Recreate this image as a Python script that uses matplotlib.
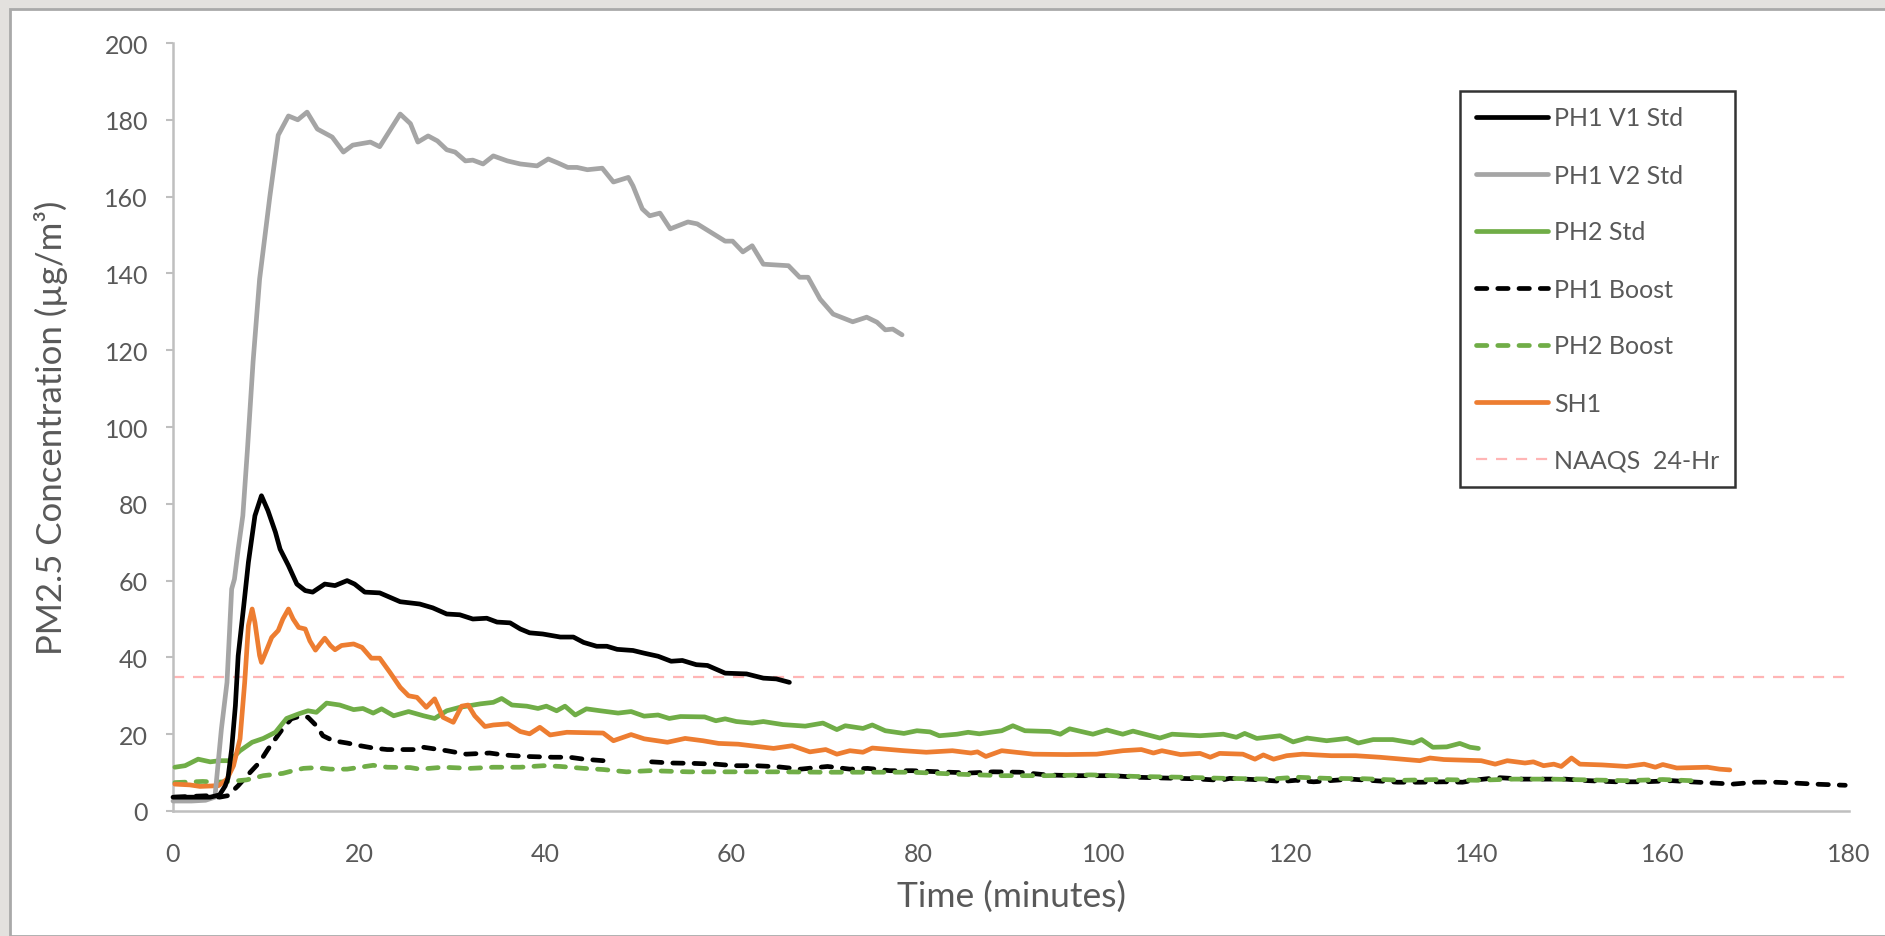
import numpy as np
import matplotlib
matplotlib.use("Agg")
import matplotlib.pyplot as plt
from matplotlib.patches import Rectangle

plt.rcParams['font.family'] = ['Lato', 'DejaVu Sans']

# ---- data: (time in minutes, PM2.5 ug/m3) ----
PH1_V1_STD = [(0, 3.6), (2, 3.6), (4.0, 3.6), (5.0, 4.2), (5.6, 6.5), (5.9, 8.5), (6.3, 16.1), (6.7, 27.4),
              (7.0, 40.4), (7.6, 53.5), (8.1, 64.8), (8.8, 76.9), (9.5, 82.1), (10.2, 78.2), (11.0, 72.6),
              (11.5, 68.2), (12.4, 63.9), (13.3, 59.1), (14.2, 57.4), (15.0, 57.0), (16.3, 59.1), (17.4, 58.7),
              (18.7, 60.0), (19.5, 59.1), (20.6, 57.0), (22.2, 56.8), (24.4, 54.5), (26.5, 53.9), (27.9, 52.9),
              (29.4, 51.3), (30.8, 51.1), (32.2, 50.0), (33.7, 50.2), (34.8, 49.2), (36.2, 49.0), (37.3, 47.4),
              (38.3, 46.4), (39.7, 46.1), (41.6, 45.3), (43.0, 45.3), (44.1, 43.9), (45.5, 42.9), (46.6, 42.9),
              (47.7, 42.1), (49.4, 41.8), (50.6, 41.1), (52.1, 40.3), (53.5, 39.0), (54.7, 39.2), (56.2, 38.1),
              (57.4, 37.9), (59.3, 35.9), (61.6, 35.7), (63.4, 34.6), (64.8, 34.4), (66.2, 33.5)]

PH1_V2_STD = [(0, 2.6), (2, 2.6), (3.5, 2.8), (4.5, 3.6), (5.2, 21.4), (5.8, 33.5), (6.3, 57.8), (6.6, 60.4),
              (7.0, 68.2), (7.5, 76.9), (8.0, 94.3), (8.6, 117), (9.3, 138.5), (10.4, 160), (11.3, 176),
              (12.4, 181), (13.4, 180), (14.4, 182), (15.5, 177.6), (17.1, 175.5), (18.3, 171.6), (19.3, 173.4),
              (21.2, 174.2), (22.2, 173), (24.4, 181.5), (25.5, 179), (26.3, 174.2), (27.4, 175.8), (28.4, 174.5),
              (29.4, 172.2), (30.3, 171.6), (31.4, 169.3), (32.2, 169.5), (33.3, 168.5), (34.4, 170.6),
              (35.9, 169.3), (37.3, 168.5), (39.1, 168), (40.3, 169.8), (41.3, 168.8), (42.4, 167.6),
              (43.4, 167.6), (44.5, 167), (46.1, 167.4), (47.3, 163.8), (48.9, 165), (49.4, 162.8), (50.4, 156.8),
              (51.2, 155), (52.3, 155.7), (53.4, 151.6), (55.3, 153.4), (56.3, 152.9), (57.7, 150.8),
              (59.3, 148.4), (60.1, 148.4), (61.2, 145.6), (62.2, 147.2), (63.4, 142.4), (66.1, 142),
              (67.3, 139), (68.2, 139), (69.5, 133.3), (70.9, 129.4), (73.0, 127.4), (74.5, 128.6),
              (75.6, 127.3), (76.5, 125.3), (77.3, 125.5), (78.3, 124)]

PH2_STD = [(0.2, 11.4), (1.3, 11.8), (2.7, 13.5), (4.0, 12.8), (5.0, 13.1), (6.1, 13.1), (7.2, 15.7), (8.5, 17.9),
           (9.7, 18.9), (11.0, 20.5), (12.2, 24.1), (13.5, 25.3), (14.5, 26.1), (15.4, 25.7), (16.5, 28.1),
           (17.9, 27.6), (19.4, 26.4), (20.4, 26.7), (21.5, 25.5), (22.4, 26.6), (23.7, 24.8), (25.3, 25.9),
           (26.9, 24.8), (28.1, 24.1), (29.4, 26.1), (30.8, 27.0), (33.0, 27.9), (34.4, 28.3), (35.3, 29.3),
           (36.4, 27.6), (38.0, 27.3), (39.2, 26.7), (40.1, 27.3), (41.2, 26.1), (42.1, 27.3), (43.2, 25.0),
           (44.4, 26.6), (45.9, 26.1), (47.8, 25.5), (49.2, 25.9), (50.6, 24.7), (52.1, 25.0), (53.3, 24.1),
           (54.5, 24.6), (57.1, 24.5), (58.3, 23.5), (59.3, 24.0), (60.5, 23.3), (62.2, 22.9), (63.4, 23.3),
           (65.5, 22.5), (67.9, 22.1), (69.8, 22.9), (71.3, 21.2), (72.2, 22.2), (74.1, 21.5), (75.1, 22.4),
           (76.5, 20.9), (78.5, 20.2), (79.9, 20.9), (81.3, 20.6), (82.3, 19.6), (84.2, 20.0), (85.4, 20.5),
           (86.6, 20.1), (89.0, 20.9), (90.2, 22.2), (91.5, 20.9), (94.2, 20.7), (95.3, 20.0), (96.3, 21.4),
           (98.8, 20.0), (100.3, 21.1), (102.0, 20.0), (103.1, 20.8), (106.0, 19.0), (107.3, 20.0),
           (110.3, 19.6), (112.8, 20.0), (114.2, 19.2), (115.1, 20.2), (116.4, 18.9), (118.9, 19.6),
           (120.3, 18.0), (121.8, 19.0), (123.9, 18.3), (126.1, 18.9), (127.3, 17.7), (128.9, 18.6),
           (131.0, 18.6), (133.2, 17.7), (134.1, 18.6), (135.3, 16.6), (136.8, 16.7), (138.2, 17.6),
           (139.3, 16.6), (140.2, 16.3)]

PH1_BOOST = [(0.2, 3.6), (1.8, 3.8), (4.0, 4.0), (5.0, 3.6), (5.9, 4.0), (7.0, 6.6), (8.3, 10.1), (9.3, 12.7),
             (10.2, 16.1), (11.0, 18.8), (11.8, 21.5), (12.7, 24.0), (13.8, 24.8), (14.5, 24.4), (15.4, 22.2),
             (16.1, 19.6), (17.2, 18.3), (18.7, 17.7), (20.1, 17.0), (21.5, 16.4), (23.0, 16.0), (24.7, 16.0),
             (26.2, 16.0), (26.9, 16.6), (29.4, 15.7), (31.5, 14.8), (34.0, 15.1), (35.5, 14.6), (38.0, 14.2),
             (40.8, 14.0), (42.6, 14.0), (44.1, 13.5), (46.2, 13.1), (48.8, None), (51.4, 12.8), (53.5, 12.5),
             (55.9, 12.4), (58.3, 12.2), (60.3, 11.8), (62.6, 11.8), (65.0, 11.5), (67.4, 10.9), (70.3, 11.6),
             (72.7, 10.9), (74.6, 11.1), (77.0, 10.5), (79.4, 10.5), (82.3, 10.2), (85.6, 9.9), (88.1, 10.2),
             (90.9, 10.1), (93.8, 9.4), (96.7, 9.2), (101.0, 9.2), (103.4, 8.8), (106.3, 8.6), (109.6, 8.4),
             (112.5, 8.0), (113.5, 8.5), (116.8, 8.1), (119.2, 7.7), (120.6, 8.0), (122.5, 7.6), (126.5, 8.3),
             (129.0, 7.9), (131.5, 7.5), (134.0, 7.5), (136.5, 7.6), (138.5, 7.5), (140.0, 8.1), (142.3, 8.7),
             (145.0, 8.3), (149.5, 8.3), (152.0, 7.9), (155.0, 7.6), (158.0, 7.6), (161.0, 7.9), (163.0, 7.6),
             (165.3, 7.3), (167.5, 7.0), (170.0, 7.5), (172.0, 7.5), (174.0, 7.3), (176.3, 7.0), (179.6, 6.7)]

PH2_BOOST = [(0.2, 7.4), (3.2, 7.7), (4.7, 7.5), (6.1, 7.7), (7.9, 8.1), (9.7, 9.2), (11.8, 9.8), (12.9, 10.5),
             (14.0, 11.1), (15.4, 11.3), (16.9, 10.9), (18.7, 10.9), (20.1, 11.4), (21.5, 11.9), (23.0, 11.4),
             (25.5, 11.3), (26.5, 10.9), (29.0, 11.4), (31.9, 11.1), (34.4, 11.4), (37.3, 11.4), (39.8, 11.8),
             (41.6, 11.6), (44.1, 11.1), (46.2, 10.8), (48.7, 10.2), (51.2, 10.5), (55.4, 10.2), (59.3, 10.2),
             (65.0, 10.2), (69.8, 10.1), (74.6, 10.1), (79.4, 10.1), (84.2, 9.6), (89.0, 9.2), (93.8, 9.2),
             (98.6, 9.4), (103.4, 9.0), (108.2, 8.8), (113.0, 8.5), (117.8, 8.3), (120.6, 8.8), (124.0, 8.5),
             (128.0, 8.4), (132.0, 8.0), (136.0, 8.2), (140.0, 8.0), (144.0, 8.3), (148.0, 8.3), (152.0, 8.1),
             (156.0, 7.9), (160.0, 8.2), (164.0, 7.8)]

SH1 = [(0.2, 7.0), (1.8, 6.8), (2.9, 6.4), (4.9, 6.6), (5.8, 8.3), (6.5, 11.8), (7.2, 18.8), (7.7, 33.5),
       (8.1, 48.3), (8.5, 52.6), (8.8, 49.1), (9.3, 40.5), (9.5, 38.7), (10.1, 42.2), (10.6, 45.2), (11.3, 47.0),
       (11.8, 50.0), (12.4, 52.6), (12.9, 50.0), (13.5, 47.8), (14.2, 47.4), (14.7, 44.3), (15.3, 41.9),
       (15.8, 43.5), (16.3, 45.0), (16.9, 43.1), (17.4, 42.0), (18.1, 43.1), (19.4, 43.5), (20.3, 42.6),
       (21.3, 39.8), (22.2, 39.8), (23.3, 36.1), (24.4, 32.2), (25.3, 30.0), (26.2, 29.6), (27.2, 27.0),
       (28.1, 29.2), (29.0, 24.4), (30.1, 23.1), (31.0, 27.3), (31.7, 27.6), (32.4, 24.8), (33.5, 22.0),
       (34.4, 22.4), (36.0, 22.7), (37.3, 20.7), (38.3, 20.1), (39.4, 21.8), (40.5, 19.8), (42.3, 20.5),
       (46.2, 20.3), (47.3, 18.3), (49.2, 19.9), (50.6, 18.8), (53.1, 17.9), (55.0, 18.9), (56.9, 18.3),
       (58.6, 17.6), (60.7, 17.4), (64.5, 16.3), (66.5, 17.0), (68.4, 15.4), (70.1, 16.0), (71.3, 14.8),
       (72.7, 15.7), (74.1, 15.3), (75.1, 16.4), (78.5, 15.7), (80.9, 15.3), (83.7, 15.7), (85.7, 15.1),
       (86.4, 15.4), (87.3, 14.2), (89.0, 15.7), (92.4, 14.8), (96.0, 14.7), (99.2, 14.8), (102.0, 15.7),
       (104.0, 16.0), (105.3, 15.1), (106.2, 15.7), (108.2, 14.7), (110.3, 15.0), (111.4, 14.0), (112.4, 15.0),
       (114.9, 14.8), (116.2, 13.5), (117.1, 14.6), (118.2, 13.5), (119.6, 14.4), (121.3, 14.8), (124.4, 14.4),
       (127.0, 14.4), (129.6, 14.0), (133.9, 13.1), (135.0, 13.8), (136.5, 13.4), (140.5, 13.1), (142.0, 12.2),
       (143.3, 13.1), (145.2, 12.5), (146.1, 12.8), (147.2, 11.8), (148.3, 12.2), (149.1, 11.6), (150.2, 13.8),
       (151.1, 12.2), (153.5, 12.0), (156.1, 11.6), (158.0, 12.2), (159.2, 11.4), (160.0, 12.1), (161.5, 11.2),
       (164.8, 11.4), (166.1, 10.9), (167.2, 10.7)]

NAAQS_24HR = 35
X_RANGE = (0, 180)
Y_RANGE = (0, 200)
X_TICKS = list(range(0, 181, 20))
Y_TICKS = list(range(0, 201, 20))

# ---- figure ----
W, H = 1885, 937
fig = plt.figure(figsize=(W / 100, H / 100), dpi=100)
fig.patch.set_facecolor('#e3e1de')
fig.patches.append(Rectangle((10 / W, 0), 1.0, 1 - 10 / H, transform=fig.transFigure,
                             facecolor='white', edgecolor='#a9a9a9', linewidth=2.0, zorder=-10))

ax = fig.add_axes([173 / W, (H - 812) / H, (1849 - 173) / W, (812 - 44) / H])
ax.set_facecolor('none')

LW = 3.4
def xy(series):
    t = np.array([p[0] for p in series], dtype=float)
    v = np.array([np.nan if p[1] is None else p[1] for p in series], dtype=float)
    return t, v

kw = dict(linewidth=LW, solid_capstyle='round', solid_joinstyle='round', clip_on=False)
dkw = dict(linewidth=LW, dash_capstyle='round', dash_joinstyle='round', clip_on=False)
DASH = (0, (2.2, 2.3))

l1, = ax.plot(*xy(PH1_V1_STD), color='#000000', label='PH1 V1 Std', zorder=6, **kw)
l2, = ax.plot(*xy(PH1_V2_STD), color='#a5a5a5', label='PH1 V2 Std', zorder=5, **kw)
l3, = ax.plot(*xy(PH2_STD), color='#70ad47', label='PH2 Std', zorder=4, **kw)
l4, = ax.plot(*xy(PH1_BOOST), color='#000000', linestyle=DASH, label='PH1 Boost', zorder=3, **dkw)
l5, = ax.plot(*xy(PH2_BOOST), color='#70ad47', linestyle=DASH, label='PH2 Boost', zorder=3.5, **dkw)
l6, = ax.plot(*xy(SH1), color='#ed7d31', label='SH1', zorder=4.5, **kw)
l7, = ax.plot(X_RANGE, [NAAQS_24HR, NAAQS_24HR], color='#ffb5b5', linewidth=1.6,
              linestyle=(0, (5, 4)), label='NAAQS  24-Hr', zorder=2)

ax.set_xlim(*X_RANGE)
ax.set_ylim(*Y_RANGE)
ax.set_xticks(X_TICKS)
ax.set_yticks(Y_TICKS)

for s in ('top', 'right'):
    ax.spines[s].set_visible(False)
for s in ('left', 'bottom'):
    ax.spines[s].set_color('#bfbfbf')
    ax.spines[s].set_linewidth(1.8)

txt = '#595959'
ax.tick_params(axis='y', length=5, width=1.5, color='#bfbfbf', labelsize=18, labelcolor=txt, pad=13)
ax.tick_params(axis='x', length=0, labelsize=18, labelcolor=txt, pad=22)

ax.set_xlabel('Time (minutes)', fontsize=25.5, color=txt, labelpad=11)
ax.set_ylabel('PM2.5 Concentration (µg/m³)', fontsize=25, color=txt, labelpad=26)

leg = ax.legend(handles=[l1, l2, l3, l4, l5, l6, l7], loc='upper left',
                bbox_to_anchor=(1460 / W, 1 - 92 / H), bbox_transform=fig.transFigure,
                borderaxespad=0, fontsize=18, frameon=True, fancybox=False,
                handlelength=2.9, handletextpad=0.25, labelspacing=1.36, borderpad=0.62)
leg.get_frame().set_edgecolor('black')
leg.get_frame().set_linewidth(1.8)
for t in leg.get_texts():
    t.set_color(txt)

fig.savefig('out.png', dpi=100, facecolor=fig.get_facecolor())
